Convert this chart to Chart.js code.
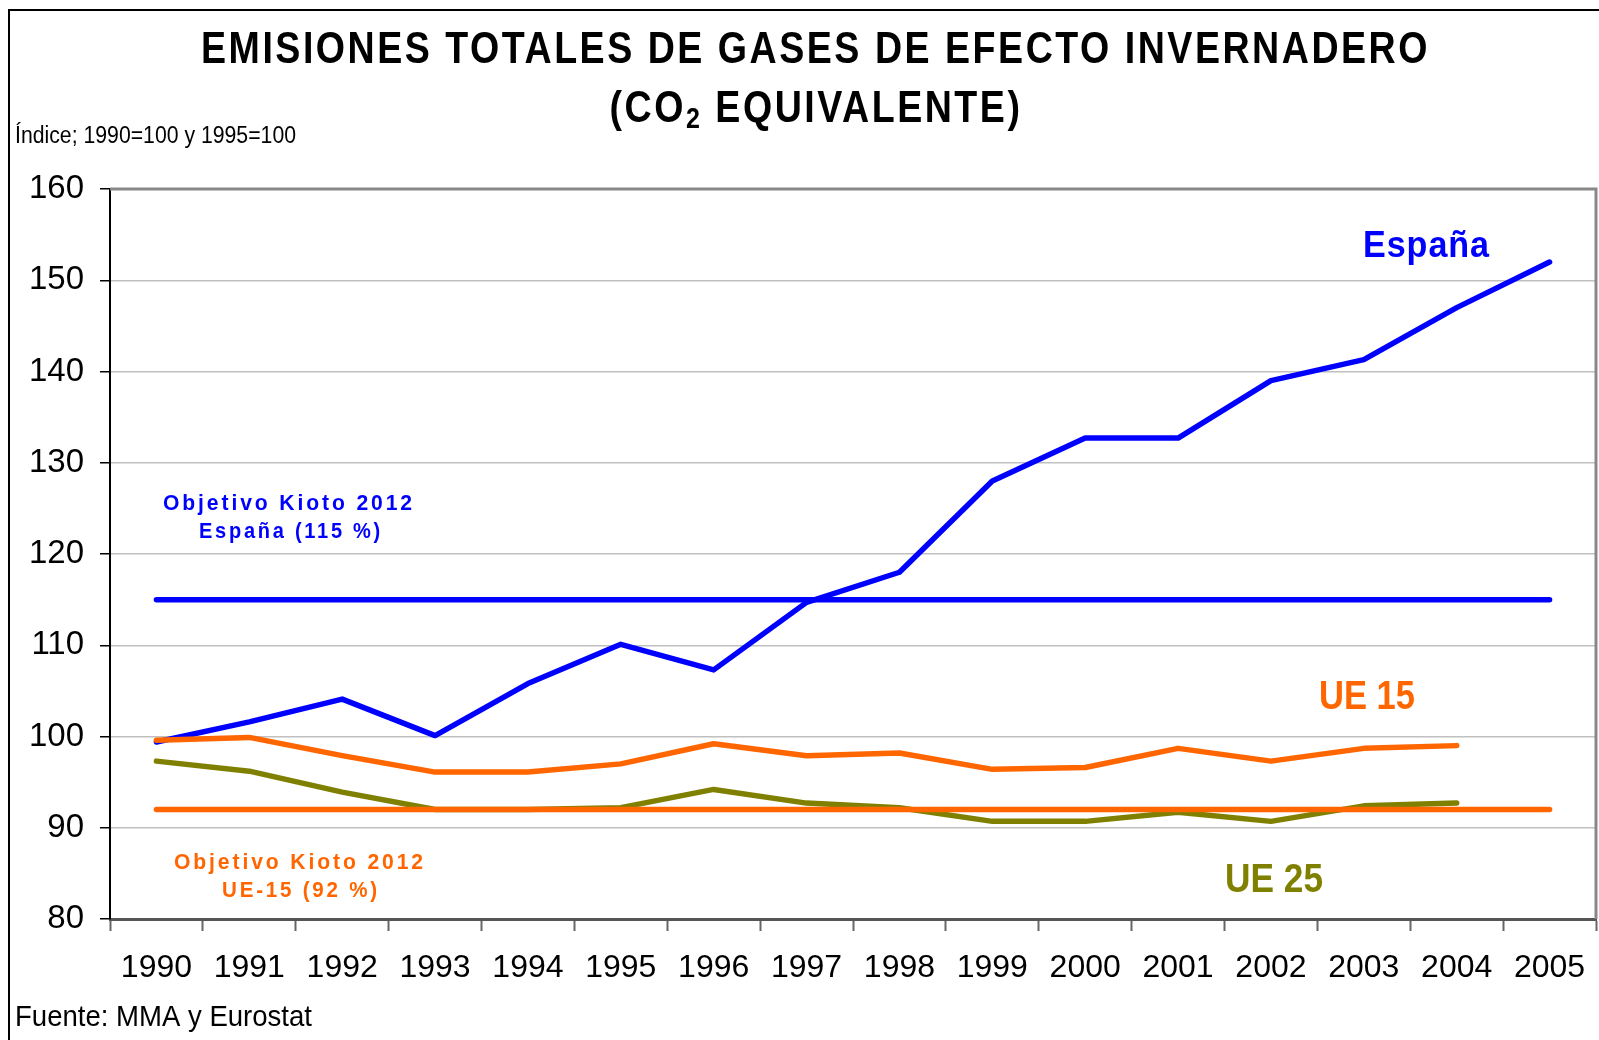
<!DOCTYPE html>
<html>
<head>
<meta charset="utf-8">
<script src="https://cdn.jsdelivr.net/npm/chart.js"></script>
<style>
  body { margin: 0; background: #fff; }
</style>
</head>
<body>
<canvas id="grafico" width="1599" height="1040"></canvas>
<script>
// datos
const anios = ['1990', '1991', '1992', '1993', '1994', '1995', '1996', '1997',
  '1998', '1999', '2000', '2001', '2002', '2003', '2004', '2005'];
const espana = [99.4, 101.6, 104.1, 100.1, 105.8, 110.1, 107.3, 114.7,
  118.0, 128.0, 132.7, 132.7, 139.0, 141.3, 147.0, 152.0];
const ue15 = [99.6, 99.9, 97.9, 96.1, 96.1, 97.0, 99.2, 97.9,
  98.2, 96.4, 96.6, 98.7, 97.3, 98.7, 99.0, null];
const ue25 = [97.3, 96.2, 93.9, 92.0, 92.0, 92.2, 94.2, 92.7,
  92.2, 90.7, 90.7, 91.7, 90.7, 92.4, 92.7, null];
const kiotoEspana = anios.map(() => 115);
const kiotoUE15 = anios.map(() => 92);
const ticksY = [80, 90, 100, 110, 120, 130, 140, 150, 160];

const AZUL = '#0000ff';
const NARANJA = '#ff6600';
const OLIVA = '#808000';

// escribe un texto ajustado a un ancho dado (la fuente original es algo estrecha)
function texto(ctx, str, x, y, ancho, fuente, color, espacio) {
  ctx.save();
  ctx.font = fuente;
  ctx.letterSpacing = (espacio || 0) + 'px';
  ctx.fillStyle = color;
  ctx.textAlign = 'left';
  ctx.textBaseline = 'alphabetic';
  const m = ctx.measureText(str).width;
  ctx.translate(x, y);
  ctx.scale(ancho / m, 1);
  ctx.fillText(str, 0, 0);
  ctx.restore();
}

const textos = {
  id: 'textos',
  afterDraw(chart) {
    const ctx = chart.ctx;
    const a = chart.chartArea;

    // borde del area de trazado (arriba y derecha)
    ctx.save();
    ctx.strokeStyle = '#888';
    ctx.lineWidth = 3;
    ctx.beginPath();
    ctx.moveTo(a.left, a.top);
    ctx.lineTo(a.right, a.top);
    ctx.lineTo(a.right, a.bottom);
    ctx.stroke();

    // marco exterior
    ctx.strokeStyle = '#000';
    ctx.lineWidth = 2;
    ctx.beginPath();
    ctx.moveTo(9, 1040);
    ctx.lineTo(9, 10);
    ctx.lineTo(1599, 10);
    ctx.stroke();
    ctx.restore();

    // titulo
    const fT = "bold 45px 'Liberation Sans', Arial, sans-serif";
    texto(ctx, 'EMISIONES TOTALES DE GASES DE EFECTO INVERNADERO', 201, 63, 1229, fT, '#000', 3);
    ctx.save();
    ctx.font = fT;
    ctx.letterSpacing = '3px';
    const sx = 1229 / ctx.measureText('EMISIONES TOTALES DE GASES DE EFECTO INVERNADERO').width;
    const w1 = ctx.measureText('(CO').width * sx;
    ctx.font = "bold 30px 'Liberation Sans', Arial, sans-serif";
    const w2 = ctx.measureText('2').width * sx;
    ctx.font = fT;
    const w3 = ctx.measureText(' EQUIVALENTE)').width * sx;
    ctx.restore();
    let x0 = 816 - (w1 + w2 + w3) / 2;
    texto(ctx, '(CO', x0, 122, w1, fT, '#000', 3);
    texto(ctx, '2', x0 + w1, 128, w2, "bold 30px 'Liberation Sans', Arial, sans-serif", '#000', 3);
    texto(ctx, ' EQUIVALENTE)', x0 + w1 + w2, 122, w3, fT, '#000', 3);

    texto(ctx, 'Índice; 1990=100 y 1995=100', 15, 143, 281, "23px 'Liberation Sans', Arial, sans-serif", '#000', 0);
    texto(ctx, 'Fuente: MMA y Eurostat', 15, 1026, 297, "30px 'Liberation Sans', Arial, sans-serif", '#000', 0);

    // etiquetas de las series
    texto(ctx, 'España', 1363, 257, 127, "bold 37px 'Liberation Sans', Arial, sans-serif", AZUL, 1);
    texto(ctx, 'UE 15', 1319, 709, 96, "bold 40px 'Liberation Sans', Arial, sans-serif", NARANJA, 0);
    texto(ctx, 'UE 25', 1225, 892, 98, "bold 40px 'Liberation Sans', Arial, sans-serif", OLIVA, 0);

    const fK = "bold 22px 'Liberation Sans', Arial, sans-serif";
    texto(ctx, 'Objetivo Kioto 2012', 163, 510, 252, fK, AZUL, 3);
    texto(ctx, 'España (115 %)', 199, 538, 184, fK, AZUL, 3);
    texto(ctx, 'Objetivo Kioto 2012', 174, 869, 252, fK, NARANJA, 3);
    texto(ctx, 'UE-15 (92 %)', 222, 897, 158, fK, NARANJA, 3);
  }
};

function serie(label, data, color, orden) {
  return {
    label: label,
    data: data,
    borderColor: color,
    backgroundColor: color,
    borderWidth: 5.5,
    borderCapStyle: 'round',
    borderJoinStyle: 'round',
    pointRadius: 0,
    tension: 0,
    fill: false,
    order: orden
  };
}

new Chart(document.getElementById('grafico'), {
  type: 'line',
  data: {
    labels: anios,
    datasets: [
      serie('España', espana, AZUL, 4),
      serie('UE 15', ue15, NARANJA, 2),
      serie('UE 25', ue25, OLIVA, 3),
      serie('Objetivo Kioto España', kiotoEspana, AZUL, 5),
      serie('Objetivo Kioto UE-15', kiotoUE15, NARANJA, 1)
    ]
  },
  options: {
    responsive: false,
    devicePixelRatio: 1,
    animation: false,
    layout: { padding: { top: 189, right: 3, bottom: 51, left: 0 } },
    plugins: {
      legend: { display: false },
      title: { display: false },
      tooltip: { enabled: false }
    },
    scales: {
      x: {
        offset: true,
        grid: {
          offset: true,
          drawOnChartArea: false,
          drawTicks: true,
          tickLength: 12,
          tickColor: '#666',
          tickWidth: 2
        },
        border: { color: '#555', width: 3 },
        ticks: {
          color: '#000',
          padding: 18,
          maxRotation: 0,
          autoSkip: false,
          font: { family: "'Liberation Sans', Arial, sans-serif", size: 32 }
        },
        afterFit(scale) {
          scale.height = 70;
          scale.paddingLeft = 0;
          scale.paddingRight = 0;
        }
      },
      y: {
        min: 80,
        max: 160,
        afterBuildTicks(scale) { scale.ticks = ticksY.map(v => ({ value: v })); },
        grid: {
          color: '#c0c0c0',
          lineWidth: 1.5,
          drawTicks: true,
          tickLength: 10,
          tickColor: '#000',
          tickWidth: 1.5
        },
        border: { color: '#000', width: 2 },
        ticks: {
          color: '#000',
          padding: 16,
          font: { family: "'Liberation Sans', Arial, sans-serif", size: 33 }
        },
        afterFit(scale) { scale.width = 110; }
      }
    }
  },
  plugins: [textos]
});
</script>
</body>
</html>
